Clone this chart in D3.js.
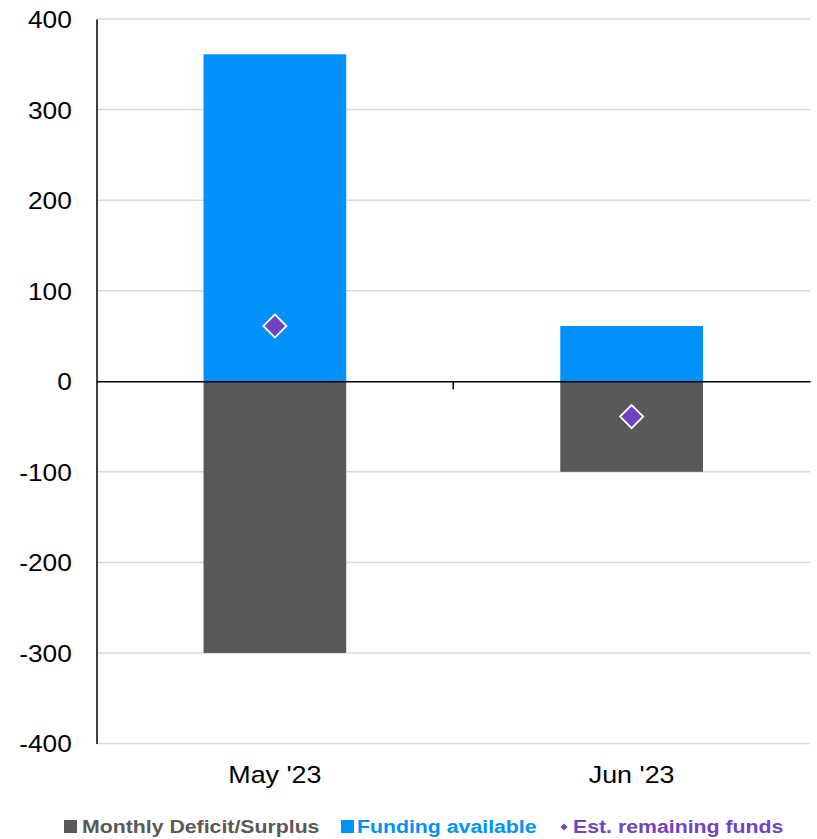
<!DOCTYPE html>
<html><head><meta charset="utf-8">
<script src="https://cdn.jsdelivr.net/npm/d3@7"></script>
<style>body{margin:0;background:#fff}svg{display:block}</style>
</head><body>
<script>
const categories = ["May '23", "Jun '23"];
const deficit = [-300, -100];
const funding = [361, 61];
const remaining = [61, -39];
const yTicks = [-400, -300, -200, -100, 0, 100, 200, 300, 400];
const seriesNames = ["Monthly Deficit/Surplus", "Funding available", "Est. remaining funds"];
const colors = ["#595959", "#0092FA", "#7044C1"];

(function () {
const W = 817, H = 839;
const svg = d3.select("body").append("svg").attr("width", W).attr("height", H);
const font = "Liberation Sans, Arial, sans-serif";
const mLeft = 96.5, mRight = 810, mTop = 19, mBottom = 743.5;
const sx = 1.12;

const x = d3.scaleBand().domain(categories).range([mLeft, mRight]).paddingInner(0.6).paddingOuter(0.3);
const xb = d3.scaleBand().domain(categories).range([mLeft, mRight]);
const y = d3.scaleLinear().domain([-400, 400]).range([mBottom, mTop]);

// gridlines
svg.append("g").selectAll("line").data(yTicks.filter(d => d !== 0)).join("line")
  .attr("x1", mLeft).attr("x2", mRight).attr("y1", d => y(d)).attr("y2", d => y(d))
  .attr("stroke", "#d9d9d9").attr("stroke-width", 1.5);

// bars
const rows = categories.map((c, i) => ({c, def: deficit[i], fund: funding[i], rem: remaining[i]}));
svg.append("g").selectAll("rect").data(rows).join("rect")
  .attr("x", d => x(d.c)).attr("width", x.bandwidth())
  .attr("y", d => y(0)).attr("height", d => y(d.def) - y(0))
  .attr("fill", colors[0]);
svg.append("g").selectAll("rect").data(rows).join("rect")
  .attr("x", d => x(d.c)).attr("width", x.bandwidth())
  .attr("y", d => y(d.fund)).attr("height", d => y(0) - y(d.fund))
  .attr("fill", colors[1]);

// y axis
const yAxis = svg.append("g").attr("transform", `translate(${mLeft},0)`)
  .call(d3.axisLeft(y).tickValues(yTicks).tickSize(0).tickFormat(d => String(d)));
yAxis.select(".domain").attr("stroke", "#000").attr("stroke-width", 1.5);
yAxis.selectAll("text").attr("font-family", font).attr("font-size", 23.5).attr("fill", "#000")
  .attr("x", -22).attr("dy", "0.36em").attr("transform", `scale(${sx},1)`);

// x axis at zero
const xAxis = svg.append("g").attr("transform", `translate(0,${y(0)})`)
  .call(d3.axisBottom(xb).tickValues([]).tickSizeOuter(0));
xAxis.select(".domain").attr("stroke", "#000").attr("stroke-width", 1.5);
xAxis.append("line").attr("x1", xb(categories[1])).attr("x2", xb(categories[1]))
  .attr("y1", 0).attr("y2", 8).attr("stroke", "#000").attr("stroke-width", 1.5);

// category labels
svg.append("g").selectAll("text").data(categories).join("text")
  .attr("transform", d => `translate(${xb(d) + xb.bandwidth() / 2},783) scale(${sx},1)`)
  .attr("text-anchor", "middle").attr("font-family", font).attr("font-size", 24).attr("fill", "#000")
  .text(d => d);

// diamonds
const sym = d3.symbol().type(d3.symbolDiamond2).size(340);
svg.append("g").selectAll("path").data(rows).join("path")
  .attr("transform", d => `translate(${xb(d.c) + xb.bandwidth() / 2},${y(d.rem)})`)
  .attr("d", sym).attr("fill", colors[2]).attr("stroke", "#fff").attr("stroke-width", 1.8);

// legend
const lg = svg.append("g").attr("font-family", font).attr("font-size", 19).attr("font-weight", "bold");
const markX = [64, 341, 560];
const textX = [82, 357, 573];
seriesNames.forEach((n, i) => {
  if (i < 2) {
    lg.append("rect").attr("x", markX[i]).attr("y", 820).attr("width", 13).attr("height", 13).attr("fill", colors[i]);
  } else {
    lg.append("path").attr("transform", `translate(${markX[i] + 4},827)`)
      .attr("d", d3.symbol().type(d3.symbolDiamond2).size(32)).attr("fill", colors[i]);
  }
  lg.append("text").attr("transform", `translate(${textX[i]},833) scale(${sx},1)`).attr("fill", colors[i]).text(n);
});
})();
</script>
</body></html>
